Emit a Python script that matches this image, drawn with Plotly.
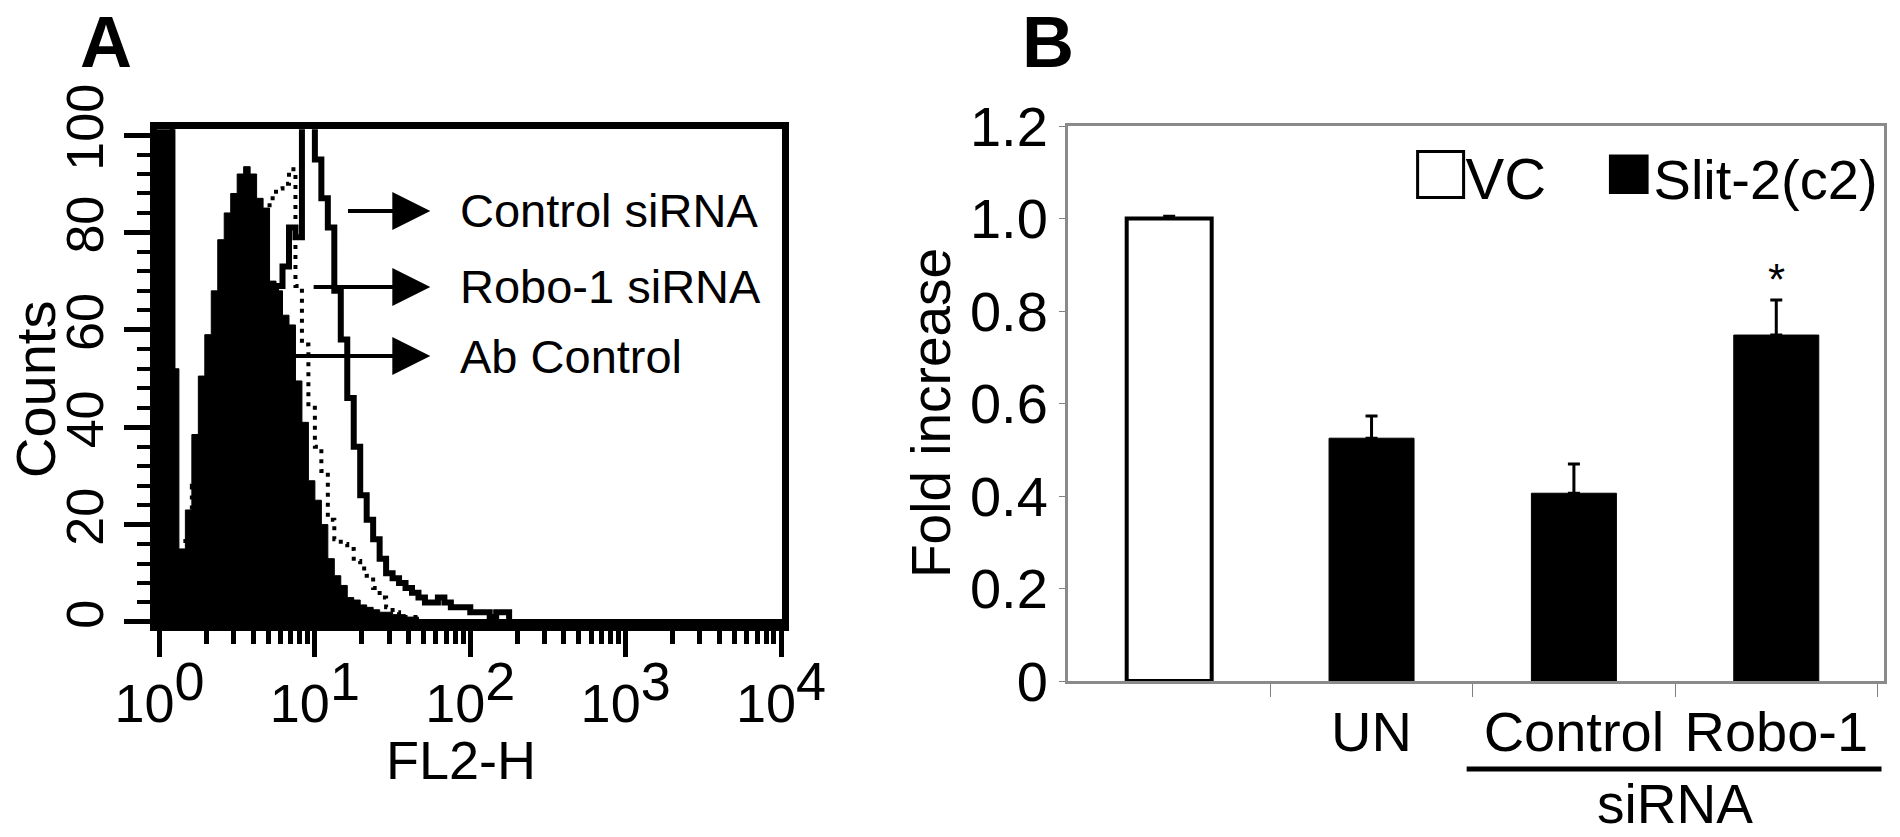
import plotly.graph_objects as go

# ---------------- Panel A data: FACS histograms (counts per log-channel bin) ----------------
bin_start_log = -1 / 24      # left edge of first bin, in decades
bin_width_log = 1 / 24       # bin width, in decades

ab_control = [110, 110, 110, 52, 15, 23, 38.5, 50.5, 59, 68, 78.5, 84, 88, 92, 93.5, 92, 87, 85, 70, 68,
              63, 61, 49.5, 41, 29, 25, 20, 13, 9.5, 7.5, 5, 4.5, 3.5, 3, 2.5, 2, 2, 1.5, 1.5, 1,
              1, 0, 0, 0, 0, 0, 0, 0, 0, 0, 0, 0, 0, 0, 0, 0, 0, 0, 0, 0]
robo1_sirna = [110, 110, 110, 14, 12, 18, 28, 38, 46, 54, 62, 68, 72, 76, 78, 80, 82, 84, 87, 89,
               90, 93, 69, 57, 44, 36, 31, 21, 17, 16, 15, 12.5, 11, 9.5, 7, 5, 3, 2, 1.5, 1,
               1, 0, 0, 0, 0, 0, 0, 0, 0, 0, 0, 0, 0, 0, 0, 0, 0, 0, 0, 0]
control_sirna = [110, 110, 110, 14, 8, 12, 18, 24, 30, 36, 42, 48, 52, 56, 60, 62, 64, 66, 67, 69,
                 73, 81, 79, 108, 108, 95, 87, 81, 68, 58, 46, 36, 26, 21, 17, 13, 10, 9, 8, 7,
                 6, 5, 4, 4, 5, 4, 3, 3, 3, 2, 2, 2, 1, 2, 2, 0, 0, 0, 0, 0]

a_yticks = [0, 20, 40, 60, 80, 100]
a_xtickvals = [1, 10, 100, 1000, 10000]
a_xtickexp = ['0', '1', '2', '3', '4']
a_labels = ['Control siRNA', 'Robo-1 siRNA', 'Ab Control']

# ---------------- Panel B data ----------------
categories = ['VC', 'UN', 'Control', 'Robo-1']
labelled_cats = ['UN', 'Control', 'Robo-1']
vc_value = [1.0]
vc_err = [0.005]
slit_cats = ['UN', 'Control', 'Robo-1']
slit_values = [0.525, 0.406, 0.748]
slit_err = [0.048, 0.063, 0.076]
b_yticks = [0, 0.2, 0.4, 0.6, 0.8, 1.0, 1.2]
b_yticktext = ['0', '0.2', '0.4', '0.6', '0.8', '1.0', '1.2']

ARIAL = 'Liberation Sans, Arial, sans-serif'
W, H = 1900, 837


def step_xy(counts):
    n = len(counts)
    xs = [10 ** (bin_start_log + i * bin_width_log) for i in range(n + 1)]
    ys = list(counts) + [counts[-1]]
    return xs, ys


def px(x):
    return x / W


def py(y):
    return 1 - y / H


fig = go.Figure()

xa, ya = step_xy(ab_control)
fig.add_trace(go.Scatter(x=xa, y=ya, mode='lines', name='Ab Control',
                         line=dict(shape='hv', width=1, color='black'),
                         fill='tozeroy', fillcolor='black', xaxis='x', yaxis='y', showlegend=False))
xr, yr = step_xy(robo1_sirna)
fig.add_trace(go.Scatter(x=xr, y=yr, mode='lines', name='Robo-1 siRNA',
                         line=dict(shape='hv', width=4, color='black', dash='4px,6px'),
                         xaxis='x', yaxis='y', showlegend=False))
xc, yc = step_xy(control_sirna)
fig.add_trace(go.Scatter(x=xc, y=yc, mode='lines', name='Control siRNA',
                         line=dict(shape='hv', width=6, color='black'),
                         xaxis='x', yaxis='y', showlegend=False))

fig.add_trace(go.Bar(x=['VC'], y=vc_value, name='VC', width=0.42,
                     marker=dict(color='white', line=dict(color='black', width=4)),
                     error_y=dict(type='data', symmetric=False, array=vc_err, arrayminus=[0],
                                  color='black', thickness=3, width=6),
                     xaxis='x2', yaxis='y2', showlegend=False))
fig.add_trace(go.Bar(x=slit_cats, y=slit_values, name='Slit-2(c2)', width=0.42,
                     marker=dict(color='black', line=dict(color='black', width=1)),
                     error_y=dict(type='data', symmetric=False, array=slit_err, arrayminus=[0, 0, 0],
                                  color='black', thickness=3, width=6),
                     xaxis='x2', yaxis='y2', showlegend=False))

minor_x = [k * 10 ** d for d in range(4) for k in range(2, 10)]
a_xticktext = ['10<sup><span style="font-size:54px">%s</span></sup>' % e for e in a_xtickexp]

fig.update_layout(
    width=W, height=H, margin=dict(l=0, r=0, t=0, b=0, autoexpand=False),
    paper_bgcolor='white', plot_bgcolor='white', barmode='overlay',
    xaxis=dict(type='log', domain=[px(157), px(782)], range=[-0.016, 4.006], automargin=False,
               showline=True, linewidth=7, linecolor='black', mirror=True,
               ticks='outside', ticklen=26, tickwidth=5, tickcolor='black',
               tickmode='array', tickvals=a_xtickvals, ticktext=a_xticktext, tickangle=0,
               minor=dict(tickmode='array', tickvals=minor_x, ticks='outside', ticklen=13,
                          tickwidth=5, tickcolor='black', showgrid=False),
               tickfont=dict(family=ARIAL, size=54, color='black'),
               showgrid=False, zeroline=False, anchor='y'),
    yaxis=dict(domain=[py(624.4), py(129.2)], range=[-0.5, 101.2], automargin=False,
               showline=True, linewidth=7, linecolor='black', mirror=True,
               ticks='outside', ticklen=26, tickwidth=5, tickcolor='black',
               tickmode='array', tickvals=a_yticks, tickangle=-90,
               minor=dict(dtick=4, ticks='outside', ticklen=13, tickwidth=4, tickcolor='black',
                          showgrid=False),
               tickfont=dict(family=ARIAL, size=52, color='black'),
               showgrid=False, zeroline=True, zerolinewidth=6, zerolinecolor='black', anchor='x'),
    xaxis2=dict(domain=[px(1068), px(1884)], type='category', automargin=False,
                categoryorder='array', categoryarray=categories,
                tickmode='array', tickvals=labelled_cats, ticktext=labelled_cats, tickangle=0,
                tickson='boundaries', ticks='outside', ticklen=13, tickwidth=1, tickcolor='#808080',
                showline=True, linewidth=3, linecolor='#8a8a8a', mirror=True,
                tickfont=dict(family=ARIAL, size=56, color='black'),
                showgrid=False, zeroline=False, anchor='y2'),
    yaxis2=dict(domain=[py(681), py(126)], range=[0, 1.2], automargin=False,
                tickmode='array', tickvals=b_yticks, ticktext=b_yticktext,
                ticks='outside', ticklen=6, tickwidth=1, tickcolor='#808080',
                showline=True, linewidth=3, linecolor='#8a8a8a', mirror=True,
                tickfont=dict(family=ARIAL, size=56, color='black'),
                showgrid=False, zeroline=False, anchor='x2'),
)

annotations = [
    dict(text='<b>A</b>', x=px(106), y=1, xref='paper', yref='paper', showarrow=False,
         font=dict(family=ARIAL, size=72, color='black'), xanchor='center', yanchor='top'),
    dict(text='<b>B</b>', x=px(1048), y=1, xref='paper', yref='paper', showarrow=False,
         font=dict(family=ARIAL, size=72, color='black'), xanchor='center', yanchor='top'),
    # axis titles
    dict(text='Counts', x=px(36), y=py(390), xref='paper', yref='paper', showarrow=False, textangle=-90,
         font=dict(family=ARIAL, size=56, color='black'), xanchor='center', yanchor='middle'),
    dict(text='FL2-H', x=px(461), y=py(760), xref='paper', yref='paper', showarrow=False,
         font=dict(family=ARIAL, size=54, color='black'), xanchor='center', yanchor='middle'),
    dict(text='Fold increase', x=px(931), y=py(413), xref='paper', yref='paper', showarrow=False,
         textangle=-90, font=dict(family=ARIAL, size=55, color='black'), xanchor='center', yanchor='middle'),
]

# Panel A arrow labels (positions in log10 / count units); arrowhead sits next to the text
label_y = [84.4, 68.8, 54.6]
arrow_tail = [1.213, 0.992, 0.832]
label_x = 1.923
for name, yv, t0 in zip(a_labels, label_y, arrow_tail):
    annotations.append(dict(text=name, x=t0, y=yv, ax=label_x, ay=yv, xref='x', yref='y',
                            axref='x', ayref='y', xanchor='left', yanchor='middle',
                            showarrow=True, arrowside='start', arrowhead=2, startarrowhead=2,
                            startarrowsize=1.9, arrowwidth=4, arrowcolor='black', startstandoff=28,
                            font=dict(family=ARIAL, size=47, color='black')))

# Panel B extras
annotations.append(dict(text='*', x='Robo-1', y=0.868, xref='x2', yref='y2', showarrow=False,
                        font=dict(family=ARIAL, size=44, color='black'), yanchor='middle'))
annotations.append(dict(text='siRNA', x=2.5, y=0, xref='x2', yref='paper', showarrow=False,
                        font=dict(family=ARIAL, size=55, color='black'), yanchor='bottom'))
annotations.append(dict(text='<span style="font-size:82px">\u25a1</span>VC',
                        x=px(1548), y=py(170), xref='paper', yref='paper', showarrow=False,
                        xanchor='right', yanchor='middle',
                        font=dict(family=ARIAL, size=58, color='black')))
annotations.append(dict(text='<span style="font-size:82px">\u25a0</span>Slit-2(c2)',
                        x=px(1880), y=py(170), xref='paper', yref='paper', showarrow=False,
                        xanchor='right', yanchor='middle',
                        font=dict(family=ARIAL, size=56, color='black')))

fig.update_layout(annotations=annotations)
fig.add_shape(type='line', xref='x2', yref='paper', x0=1.47, x1=3.52, y0=py(769), y1=py(769),
              line=dict(color='black', width=5))

fig.write_html('out.html')
